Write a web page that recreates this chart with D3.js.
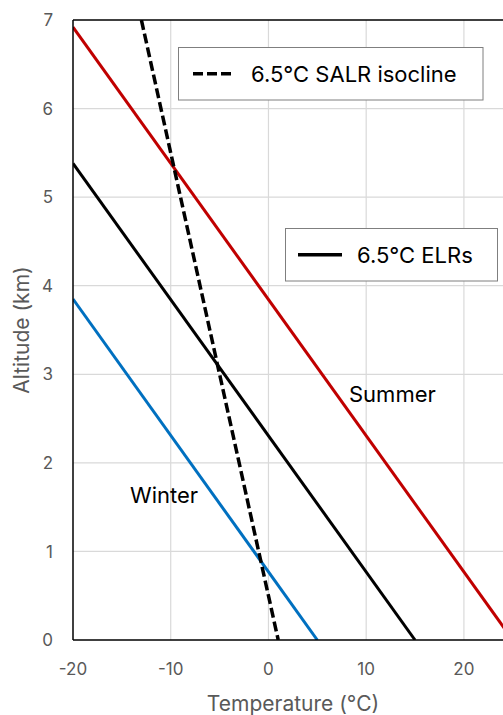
<!DOCTYPE html>
<html>
<head>
<meta charset="utf-8">
<script src="https://cdn.jsdelivr.net/npm/d3@7"></script>
<style>
  body { margin: 0; background: white; }
  svg text { font-family: Inter, "Noto Sans", sans-serif; }
</style>
</head>
<body>
<div id="chart"></div>
<script>
// Values
var xTicks = [-20, -10, 0, 10, 20];
var yTicks = [0, 1, 2, 3, 4, 5, 6, 7];

// each line given by its two end points (temperature, altitude)
var summerT = [-20, 25];
var summerZ = [6.92, 0];
var meanT = [-20, 15];
var meanZ = [5.38, 0];
var winterT = [-20, 5];
var winterZ = [3.85, 0];
var salrT = [-13, 1];
var salrZ = [7, 0];

var W = 503, H = 715;
var margin = {left: 73, right: 0, top: 20, bottom: 75};

var svg = d3.select("#chart").append("svg")
    .attr("width", W)
    .attr("height", H);

var x = d3.scaleLinear().domain([-20, 24]).range([margin.left, W - margin.right]);
var y = d3.scaleLinear().domain([0, 7]).range([H - margin.bottom, margin.top]);

// Gridlines
svg.append("g").selectAll("line.vx")
    .data(xTicks.slice(1))
    .enter().append("line")
    .attr("x1", function(d) { return x(d); })
    .attr("x2", function(d) { return x(d); })
    .attr("y1", y(0))
    .attr("y2", y(7))
    .style("stroke", "#d9d9d9")
    .style("stroke-width", 1.2);
svg.append("g").selectAll("line.hy")
    .data(yTicks.slice(1, -1))
    .enter().append("line")
    .attr("x1", x(-20))
    .attr("x2", W)
    .attr("y1", function(d) { return y(d); })
    .attr("y2", function(d) { return y(d); })
    .style("stroke", "#d9d9d9")
    .style("stroke-width", 1.2);

// Clip for the lines
svg.append("clipPath").attr("id", "plotclip")
    .append("rect")
    .attr("x", x(-20)).attr("y", y(7))
    .attr("width", x(24) - x(-20)).attr("height", y(0) - y(7));

function pts(ts, zs) {
    return ts.map(function(t, i) { return [t, zs[i]]; });
}
var line = d3.line()
    .x(function(d) { return x(d[0]); })
    .y(function(d) { return y(d[1]); });

var series = [
    {data: pts(summerT, summerZ), color: "#c00000", dash: null, w: 3},
    {data: pts(meanT, meanZ), color: "#000000", dash: null, w: 3},
    {data: pts(winterT, winterZ), color: "#0070c0", dash: null, w: 3},
    {data: pts(salrT, salrZ), color: "#000000", dash: "10,4", w: 3.5}
];
var lines = svg.append("g").attr("clip-path", "url(#plotclip)");
series.forEach(function(s) {
    lines.append("path")
        .attr("d", line(s.data))
        .style("fill", "none")
        .style("stroke", s.color)
        .style("stroke-width", s.w)
        .style("stroke-dasharray", s.dash);
});

// Axes frame
svg.append("line")
    .attr("x1", x(-20)).attr("x2", x(-20))
    .attr("y1", y(0)).attr("y2", y(7))
    .style("stroke", "black").style("stroke-width", 1.5);
svg.append("line")
    .attr("x1", x(-20)).attr("x2", W)
    .attr("y1", y(0)).attr("y2", y(0))
    .style("stroke", "black").style("stroke-width", 1.5);
svg.append("line")
    .attr("x1", x(-20)).attr("x2", W)
    .attr("y1", y(7)).attr("y2", y(7))
    .style("stroke", "black").style("stroke-width", 1.5);

// Tick labels
svg.append("g").selectAll("text")
    .data(xTicks)
    .enter().append("text")
    .attr("x", function(d) { return x(d); })
    .attr("y", y(0) + 35)
    .style("text-anchor", "middle")
    .style("font-size", "17px")
    .style("fill", "#595959")
    .text(function(d) { return d; });
svg.append("g").selectAll("text")
    .data(yTicks)
    .enter().append("text")
    .attr("x", x(-20) - 20)
    .attr("y", function(d) { return y(d); })
    .attr("dy", "0.36em")
    .style("text-anchor", "end")
    .style("font-size", "17px")
    .style("fill", "#595959")
    .text(function(d) { return d; });

// Axis titles
svg.append("text")
    .attr("x", 293)
    .attr("y", 711)
    .style("text-anchor", "middle")
    .style("font-size", "21px")
    .style("fill", "#595959")
    .text("Temperature (°C)");
svg.append("text")
    .attr("transform", "translate(29," + 330 + ") rotate(-90)")
    .style("text-anchor", "middle")
    .style("font-size", "21px")
    .style("fill", "#595959")
    .text("Altitude (km)");

// Series labels
svg.append("text")
    .attr("x", 349).attr("y", 402)
    .style("font-size", "22px")
    .style("fill", "black")
    .text("Summer");
svg.append("text")
    .attr("x", 130).attr("y", 503)
    .style("font-size", "22px")
    .style("fill", "black")
    .text("Winter");

// Legends
function legend(bx, by, bw, bh, dash, label, lx1, lx2, tx) {
    var g = svg.append("g");
    g.append("rect")
        .attr("x", bx).attr("y", by)
        .attr("width", bw).attr("height", bh)
        .style("fill", "white")
        .style("stroke", "#7f7f7f")
        .style("stroke-width", 1);
    g.append("line")
        .attr("x1", lx1).attr("x2", lx2)
        .attr("y1", by + bh / 2).attr("y2", by + bh / 2)
        .style("stroke", "black")
        .style("stroke-width", 3.5)
        .style("stroke-dasharray", dash);
    g.append("text")
        .attr("x", tx).attr("y", by + bh / 2)
        .attr("dy", "0.36em")
        .style("font-size", "22px")
        .style("fill", "black")
        .text(label);
}
legend(178.5, 47.5, 304.5, 52.5, "10,4", "6.5°C SALR isocline", 193, 233, 251);
legend(285.5, 228.5, 212, 52.5, null, "6.5°C ELRs", 298, 342, 357);
</script>
</body>
</html>
